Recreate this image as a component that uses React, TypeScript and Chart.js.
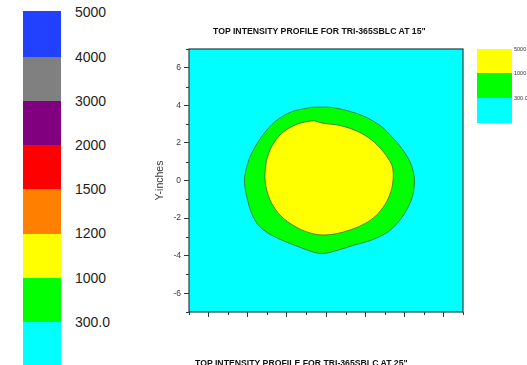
import React, { useEffect, useRef } from "react";
import { Chart, registerables } from "chart.js";

Chart.register(...registerables);

const chartTitle = 'TOP INTENSITY PROFILE FOR TRI-365SBLC AT 15"';
const nextChartTitle = 'TOP INTENSITY PROFILE FOR TRI-365SBLC AT 25"';
const yAxisTitle = "Y-inches";

// Full intensity scale, top to bottom
const levelLabels = ["5000", "4000", "3000", "2000", "1500", "1200", "1000", "300.0"];
const levelColors = ["#2241FF", "#808080", "#800080", "#FF0000", "#FF8000", "#FFFF00", "#00FF00", "#00FFFF"];

// Levels that occur in this profile
const plotLevelLabels = ["5000", "1000", "300.0"];
const plotLevelColors = ["#FFFF00", "#00FF00", "#00FFFF"];

// Axis range (inches) and labelled tick values
const axisMin = -7;
const axisMax = 7;
const yTickLabels = [-6, -4, -2, 0, 2, 4, 6];

// 300 contour (outer edge of the green band), inches
const contour300X = [-0.73, 0.2, 0.97, 1.99, 2.85, 3.36, 3.87, 4.29, 4.51, 4.46, 4.21, 3.78, 3.18, 2.33, 1.48, 0.63, -0.05, -0.56, -1.42, -2.26, -2.95, -3.46, -3.8, -4.05, -4.17, -4.05, -3.8, -3.29, -2.61, -1.76, -0.73];
const contour300Y = [3.9, 3.9, 3.75, 3.4, 2.86, 2.33, 1.71, 1.0, 0.2, -0.68, -1.39, -2.1, -2.73, -3.17, -3.43, -3.7, -3.88, -3.84, -3.52, -3.17, -2.81, -2.37, -1.75, -0.86, 0.03, 0.73, 1.45, 2.33, 3.13, 3.66, 3.9];

// 1000 contour (edge of the yellow core), inches
const contour1000X = [-0.6, -0.15, 0.72, 1.65, 2.33, 2.93, 3.36, 3.44, 3.36, 3.1, 2.67, 2.16, 1.48, 0.63, -0.05, -0.56, -1.24, -1.84, -2.35, -2.78, -3.03, -3.12, -3.03, -2.78, -2.27, -1.55, -0.95, -0.6];
const contour1000Y = [3.18, 3.05, 2.93, 2.6, 2.16, 1.53, 0.83, 0.29, -0.42, -1.13, -1.75, -2.19, -2.54, -2.81, -2.9, -2.86, -2.63, -2.28, -1.84, -1.21, -0.51, 0.2, 1.09, 1.8, 2.51, 2.97, 3.14, 3.18];

const FONT = "'Liberation Sans', Arial, Helvetica, sans-serif";
const FRAME = "#25403f";
const CONTOUR_LINE = "#3c6b34";

const toPoints = (xs: number[], ys: number[]) => xs.map((x, i) => ({ x, y: ys[i] }));

const isMajor = (v: number) => Math.abs(v % 2) < 1e-9;

// Cyan base level, plot frame and short minor ticks
const plotFrame = {
  id: "plotFrame",
  beforeDatasetsDraw(chart: any) {
    const { ctx, chartArea: a } = chart;
    ctx.save();
    ctx.fillStyle = plotLevelColors[2];
    ctx.fillRect(a.left, a.top, a.right - a.left, a.bottom - a.top);
    ctx.restore();
  },
  afterDatasetsDraw(chart: any) {
    const { ctx, chartArea: a, scales } = chart;
    ctx.save();
    ctx.strokeStyle = FRAME;
    ctx.lineWidth = 1.2;
    ctx.strokeRect(a.left, a.top, a.right - a.left, a.bottom - a.top);
    ctx.lineWidth = 1;
    ctx.beginPath();
    for (let v = axisMin; v <= axisMax; v++) {
      if (isMajor(v)) continue;
      const px = Math.round(scales.x.getPixelForValue(v)) + 0.5;
      ctx.moveTo(px, a.bottom);
      ctx.lineTo(px, a.bottom + 3);
      const py = Math.round(scales.y.getPixelForValue(v)) + 0.5;
      ctx.moveTo(a.left, py);
      ctx.lineTo(a.left - 3, py);
    }
    ctx.stroke();
    ctx.restore();
  },
};

const majorTickColor = (c: any) => (c.tick && isMajor(c.tick.value) ? FRAME : "rgba(0,0,0,0)");

function ContourChart() {
  const ref = useRef<HTMLCanvasElement | null>(null);
  useEffect(() => {
    if (!ref.current) return;
    const chart = new Chart(ref.current, {
      type: "scatter",
      data: {
        datasets: [
          {
            label: plotLevelLabels[0],
            data: toPoints(contour1000X, contour1000Y),
            showLine: true,
            fill: "shape",
            backgroundColor: plotLevelColors[0],
            borderColor: CONTOUR_LINE,
            borderWidth: 0.8,
            pointRadius: 0,
            tension: 0.3,
          },
          {
            label: plotLevelLabels[1],
            data: toPoints(contour300X, contour300Y),
            showLine: true,
            fill: "shape",
            backgroundColor: plotLevelColors[1],
            borderColor: CONTOUR_LINE,
            borderWidth: 0.8,
            pointRadius: 0,
            tension: 0.3,
          },
        ],
      },
      options: {
        responsive: false,
        maintainAspectRatio: false,
        animation: false,
        devicePixelRatio: 1,
        events: [],
        layout: { padding: { left: 140, top: 49, right: 64, bottom: 43 } },
        plugins: {
          legend: { display: false },
          tooltip: { enabled: false },
          title: { display: false },
        },
        scales: {
          x: {
            type: "linear",
            min: axisMin,
            max: axisMax,
            border: { display: false },
            grid: {
              drawOnChartArea: false,
              drawTicks: true,
              tickLength: 5,
              tickColor: majorTickColor,
              tickWidth: 1,
            },
            ticks: { stepSize: 1, display: false, autoSkip: false },
            afterFit: (s: any) => {
              s.height = 10;
            },
          },
          y: {
            type: "linear",
            min: axisMin,
            max: axisMax,
            border: { display: false },
            grid: {
              drawOnChartArea: false,
              drawTicks: true,
              tickLength: 5,
              tickColor: majorTickColor,
              tickWidth: 1,
            },
            ticks: {
              stepSize: 1,
              autoSkip: false,
              padding: 3,
              color: "#3a3a3a",
              font: { family: FONT, size: 8.5 },
              callback: (v: any) => (yTickLabels.includes(Number(v)) ? String(v) : ""),
            },
            title: {
              display: true,
              text: yAxisTitle,
              color: "#3a3a3a",
              font: { family: FONT, size: 10.5 },
              padding: { top: 14, bottom: 0 },
            },
            afterFit: (s: any) => {
              s.width = 49;
            },
          },
        },
      },
      plugins: [plotFrame],
    } as any);
    return () => chart.destroy();
  }, []);
  return (
    <canvas
      ref={ref}
      width={527}
      height={365}
      style={{ position: "absolute", left: 0, top: 0, width: 527, height: 365, display: "block" }}
    />
  );
}

function ScaleBar() {
  return (
    <>
      {levelColors.map((c, i) => {
        const top = i === 0 ? 11 : 12.6 + 44.2 * i;
        const bottom = 12.6 + 44.2 * (i + 1);
        return (
          <div
            key={"b" + i}
            style={{ position: "absolute", left: 23, width: 38, top, height: bottom - top, background: c }}
          />
        );
      })}
      {levelLabels.map((t, i) => (
        <div
          key={"l" + i}
          style={{
            position: "absolute",
            left: 75,
            top: 12.3 + 44.2 * i - 8,
            lineHeight: "16px",
            fontSize: 14,
            color: "#1e1e1e",
            whiteSpace: "nowrap",
          }}
        >
          {t}
        </div>
      ))}
    </>
  );
}

function PlotLegend() {
  const tops = [49, 73, 98, 123];
  return (
    <>
      {plotLevelColors.map((c, i) => (
        <div
          key={"pb" + i}
          style={{ position: "absolute", left: 477, width: 35, top: tops[i], height: tops[i + 1] - tops[i], background: c }}
        />
      ))}
      {plotLevelLabels.map((t, i) => (
        <div
          key={"pl" + i}
          style={{
            position: "absolute",
            left: 514,
            top: tops[i] + 0.3 - 4,
            lineHeight: "8px",
            fontSize: 5.5,
            color: "#333",
            whiteSpace: "nowrap",
          }}
        >
          {t}
        </div>
      ))}
    </>
  );
}

export default function App() {
  const titleStyle: React.CSSProperties = {
    position: "absolute",
    fontSize: 8.7,
    fontWeight: "bold",
    lineHeight: "10px",
    color: "#111",
    whiteSpace: "nowrap",
  };
  return (
    <div
      style={{
        position: "absolute",
        left: 0,
        top: 0,
        width: 527,
        height: 365,
        overflow: "hidden",
        background: "#fff",
        fontFamily: FONT,
      }}
    >
      <ScaleBar />
      <ContourChart />
      <div style={{ ...titleStyle, left: 213, top: 25.5 }}>{chartTitle}</div>
      <PlotLegend />
      <div style={{ ...titleStyle, left: 195, top: 358 }}>{nextChartTitle}</div>
    </div>
  );
}
